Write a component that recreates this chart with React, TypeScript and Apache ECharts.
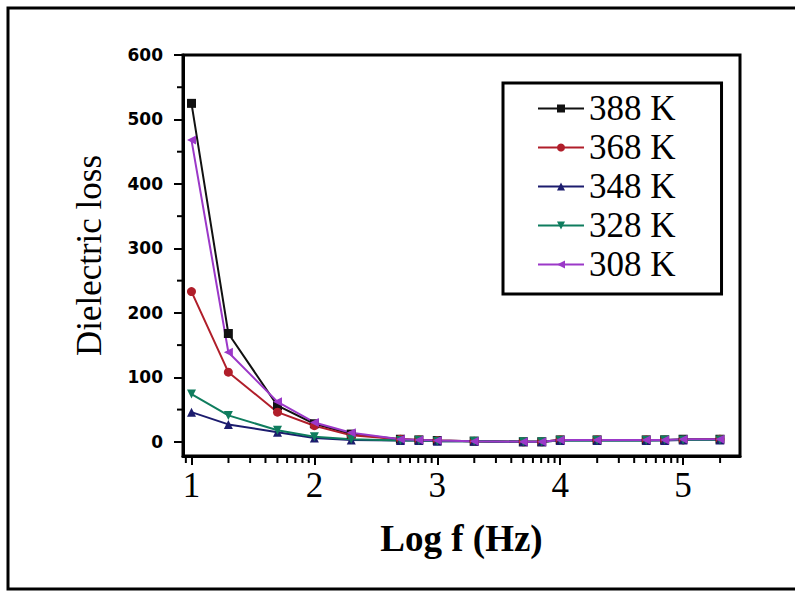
import React, { useEffect, useRef } from "react";
import * as echarts from "echarts";

// Log f (Hz) positions of the measured points
const logF = [1.0, 1.3, 1.7, 2.0, 2.3, 2.7, 2.85, 3.0, 3.3, 3.7, 3.85, 4.0, 4.3, 4.7, 4.85, 5.0, 5.3];

// Dielectric loss for each temperature
const loss388 = [525, 168, 56, 28, 12, 4, 3, 2, 1, 0, 0, 3, 3, 3, 3, 4, 4];
const loss368 = [233, 108, 46, 25, 10, 4, 3, 2, 1, 0, 0, 3, 3, 3, 3, 3, 4];
const loss348 = [46, 27, 15, 6, 3, 2, 2, 1, 1, 0, 0, 2, 2, 2, 2, 3, 3];
const loss328 = [74, 41, 18, 8, 4, 2, 2, 1, 1, 0, 0, 2, 2, 2, 3, 3, 3];
const loss308 = [468, 139, 62, 30, 14, 4, 3, 2, 1, 0, 0, 3, 3, 3, 3, 4, 4];

const seriesNames = ["388 K", "368 K", "348 K", "328 K", "308 K"];
const seriesColors = ["#111111", "#b01e2a", "#1c1c6e", "#0f7d5e", "#9b38c8"];

// Axis ticks / labels
const xMajorTicks = [1, 2, 3, 4, 5];
const yMajorTicks = [0, 100, 200, 300, 400, 500, 600];
const yMinorTicks = [50, 150, 250, 350, 450, 550];
const xMin = 0.931;
const xMax = 5.463;
const yMin = -22;
const yMax = 600;

// log-decade minor ticks (log10 of 2..9 within each decade)
const xMinorTicks: number[] = [];
for (let n = 0; n <= 5; n++) {
  for (let k = 2; k <= 9; k++) {
    const v = n + Math.log10(k);
    if (v > xMin && v < xMax) xMinorTicks.push(v);
  }
}

const SERIF = "Liberation Serif";

export default function App() {
  const ref = useRef<HTMLDivElement>(null);

  useEffect(() => {
    if (!ref.current) return;
    const chart = echarts.init(ref.current, null, { renderer: "svg" });

    const allData = [loss388, loss368, loss348, loss328, loss308];
    const symbols = ["rect", "circle", "triangle", "triangle", "triangle"];
    const rotations = [0, 0, 0, 180, 90];

    const series: any[] = allData.map((vals, i) => ({
      name: seriesNames[i],
      type: "line",
      data: logF.map((x, j) => [x, vals[j]]),
      symbol: symbols[i],
      symbolRotate: rotations[i],
      symbolSize: 9,
      showSymbol: true,
      lineStyle: { color: seriesColors[i], width: 2 },
      itemStyle: { color: seriesColors[i] },
      emphasis: { disabled: true },
    }));

    // minor ticks drawn through the axis scales
    series.push({
      type: "custom",
      name: "xMinorTicks",
      silent: true,
      clip: false,
      z: 10,
      data: xMinorTicks.map((v) => [v, yMin]),
      renderItem: (params: any, api: any) => {
        const p = api.coord([api.value(0), api.value(1)]);
        return {
          type: "line",
          shape: { x1: p[0], y1: p[1] + 1, x2: p[0], y2: p[1] + 7 },
          style: { stroke: "#000", lineWidth: 2 },
        };
      },
    });
    series.push({
      type: "custom",
      name: "yMinorTicks",
      silent: true,
      clip: false,
      z: 10,
      data: yMinorTicks.map((v) => [xMin, v]),
      renderItem: (params: any, api: any) => {
        const p = api.coord([api.value(0), api.value(1)]);
        return {
          type: "line",
          shape: { x1: p[0] - 1, y1: p[1], x2: p[0] - 6, y2: p[1] },
          style: { stroke: "#000", lineWidth: 2 },
        };
      },
    });

    const option: any = {
      animation: false,
      backgroundColor: "#ffffff",
      textStyle: { fontFamily: SERIF },
      grid: {
        left: 183,
        right: 55,
        top: 55,
        bottom: 136,
        show: true,
        borderColor: "#000",
        borderWidth: 3,
      },
      legend: {
        orient: "vertical",
        left: 503,
        top: 83,
        itemWidth: 46,
        itemHeight: 10,
        itemGap: 4,
        padding: [8, 46, 12, 34],
        borderColor: "#000",
        borderWidth: 3,
        backgroundColor: "#fff",
        data: seriesNames,
        textStyle: {
          fontFamily: SERIF,
          fontSize: 35,
          color: "#000",
        },
      },
      xAxis: {
        type: "value",
        min: xMin,
        max: xMax,
        position: "bottom",
        name: "Log f (Hz)",
        nameLocation: "middle",
        nameGap: 64,
        nameTextStyle: {
          fontFamily: SERIF,
          fontSize: 37,
          fontWeight: "bold",
          color: "#000",
        },
        axisLine: { show: true, onZero: false, lineStyle: { color: "#000", width: 3 } },
        axisTick: {
          show: true,
          length: 9,
          customValues: xMajorTicks,
          lineStyle: { color: "#000", width: 2 },
        },
        axisLabel: {
          show: true,
          customValues: xMajorTicks,
          margin: 12,
          fontFamily: SERIF,
          fontSize: 35,
          color: "#000",
        },
        splitLine: { show: false },
      },
      yAxis: {
        type: "value",
        min: yMin,
        max: yMax,
        position: "left",
        name: "Dielectric loss",
        nameLocation: "middle",
        nameGap: 76,
        nameRotate: 90,
        nameTextStyle: {
          fontFamily: SERIF,
          fontSize: 35,
          color: "#000",
        },
        axisLine: { show: true, onZero: false, lineStyle: { color: "#000", width: 3 } },
        axisTick: {
          show: true,
          length: 9,
          customValues: yMajorTicks,
          lineStyle: { color: "#000", width: 2 },
        },
        axisLabel: {
          show: true,
          customValues: yMajorTicks,
          margin: 20,
          fontFamily: "DejaVu Sans",
          fontWeight: "bold",
          fontSize: 17,
          color: "#000",
        },
        splitLine: { show: false },
      },
      graphic: [
        {
          type: "rect",
          shape: { x: 8, y: 8, width: 800, height: 581 },
          style: { fill: "none", stroke: "#000", lineWidth: 3 },
          silent: true,
          z: 0,
        },
      ],
      series,
    };

    chart.setOption(option);
    return () => chart.dispose();
  }, []);

  return (
    <div style={{ position: "fixed", left: 0, top: 0, width: 795, height: 592, background: "#fff" }}>
      <div ref={ref} style={{ width: 795, height: 592 }} />
    </div>
  );
}
